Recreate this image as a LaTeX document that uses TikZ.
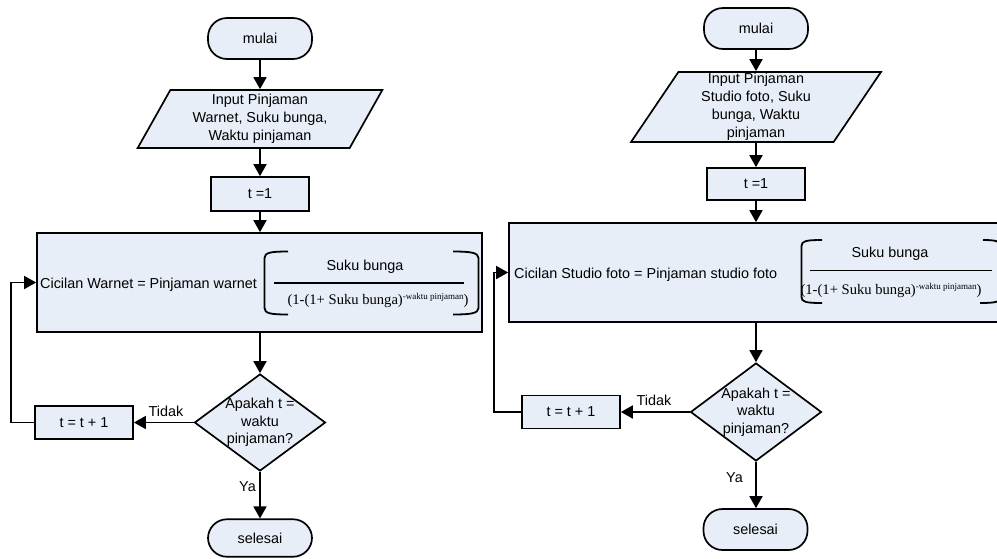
\documentclass[tikz,border=0pt]{standalone}
\usepackage{fontspec}
\setmainfont{Liberation Sans}
\newfontfamily\timesfont{Liberation Serif}
\usetikzlibrary{shapes.geometric,arrows.meta,calc}
\definecolor{boxfill}{RGB}{232,238,247}
\tikzset{
  x=1pt,y=-1pt,
  base/.style={draw=black,line width=1.7pt,fill=boxfill,
    font=\fontsize{14.4}{18}\selectfont,inner sep=0pt,align=center},
  term/.style={base,rectangle,rounded corners=19pt,minimum width=104pt,minimum height=41pt},
  proc/.style={base,rectangle,minimum width=98pt,minimum height=33pt},
  bigbox/.style={base,rectangle,minimum height=99pt},
  io/.style={base,trapezium,trapezium stretches=true,
    trapezium left angle=63.6,trapezium right angle=116.4},
  dec/.style={base,diamond,minimum width=131pt,minimum height=97pt},
  txt/.style={font=\fontsize{14.4}{17.5}\selectfont,inner sep=0pt,align=center},
  den/.style={font=\timesfont\fontsize{14.6}{16}\selectfont,inner sep=0pt},
  flow/.style={line width=1.7pt,-{Triangle[length=12pt,width=13pt]}},
  brk/.style={line width=1.8pt},
}
\newcommand{\expo}{\raisebox{5pt}{\fontsize{9}{9}\selectfont -waktu pinjaman}}
\begin{document}
\begin{tikzpicture}
\useasboundingbox (0,0) rectangle (997,558);
\clip (0,0) rectangle (997,558);

% ---------- Warnet ----------
\node[term] (m1) at (260,38.5) {mulai};
\node[io,minimum width=245pt,minimum height=58pt] (in1) at (260,119)
  {Input Pinjaman\\Warnet, Suku bunga,\\Waktu pinjaman};
\node[proc,minimum height=34pt] (t1) at (260,194) {t =1};
\node[bigbox,minimum width=445pt] (big1) at (259.5,282.5) {};
\node[txt,anchor=base west] (f1) at (40,288) {Cicilan Warnet = Pinjaman warnet};
\node[txt,anchor=base] (n1) at (365,270) {Suku bunga};
\node[den,anchor=base] (q1) at (378,304) {(1-(1+ Suku bunga)\expo)};
\draw[line width=1.6pt] (274,283) -- (464,283);
\draw[brk] (288,251.5) .. controls (271,251.5) and (264.5,252.5) .. (264.5,258)
  -- (264.5,308) .. controls (264.5,313.5) and (271,314.5) .. (288,314.5);
\draw[brk] (453,251.5) .. controls (470,251.5) and (478.5,252.5) .. (478.5,258)
  -- (478.5,308) .. controls (478.5,313.5) and (470,314.5) .. (453,314.5);
\node[dec] (d1) at (260,422.5) {};
\node[txt] (d1t) at (260,422.5) {Apakah t =\\waktu\\pinjaman?};
\node[proc] (inc1) at (84,422.5) {t = t + 1};
\node[term,minimum height=37.5pt] (s1) at (260,538) {selesai};
\coordinate (lp1) at (11,422.5);

\draw[flow] (m1.south) -- (in1.north);
\draw[flow] (in1.south) -- (t1.north);
\draw[flow] (t1.south) -- (t1.south |- big1.north);
\draw[flow] (big1.south -| d1.north) -- (d1.north);
\draw[flow] (d1.west) -- (inc1.east);
\draw[flow] (d1.south) -- (s1.north);
\draw[flow] (inc1.west) -- (lp1) |- (big1.west);
\node[txt,anchor=base] (no1) at (166,416) {Tidak};
\node[txt,anchor=base] (ya1) at (247.5,491.5) {Ya};

% ---------- Studio foto ----------
\node[term] (m2) at (756,28.5) {mulai};
\node[io,minimum width=250pt,minimum height=70pt] (in2) at (756,107)
  {Input Pinjaman\\Studio foto, Suku\\bunga, Waktu\\pinjaman};
\node[proc,minimum height=32pt] (t2) at (756,184) {t =1};
\node[bigbox,minimum width=496pt] (big2) at (757,272.5) {};
\node[txt,anchor=base west] (f2) at (514,278) {Cicilan Studio foto = Pinjaman studio foto};
\node[txt,anchor=base] (n2) at (890,257) {Suku bunga};
\node[den,anchor=base] (q2) at (891,294) {(1-(1+ Suku bunga)\expo)};
\draw[line width=1.6pt] (810,270.5) -- (992,270.5);
\draw[brk] (822,240) .. controls (806,240) and (801.5,241) .. (801.5,246)
  -- (801.5,297) .. controls (801.5,302) and (806,303) .. (822,303);
\draw[brk] (983,240) .. controls (995,240) and (1000.5,241) .. (1000.5,246)
  -- (1000.5,297) .. controls (1000.5,302) and (995,303) .. (980,303);
\node[dec,minimum width=131pt,minimum height=98pt] (d2) at (756,412) {};
\node[txt] (d2t) at (756,412) {Apakah t =\\waktu\\pinjaman?};
\node[proc] (inc2) at (571,412) {t = t + 1};
\node[term] (s2) at (755.5,529.5) {selesai};
\coordinate (lp2) at (494,412);

\draw[flow] (m2.south) -- (in2.north);
\draw[flow] (in2.south) -- (t2.north);
\draw[flow] (t2.south) -- (t2.south |- big2.north);
\draw[flow] (big2.south -| d2.north) -- (d2.north);
\draw[flow] (d2.west) -- (inc2.east);
\draw[flow] (d2.south) -- (d2.south |- s2.north);
\draw[flow] (inc2.west) -- (lp2) |- (big2.west);
\node[txt,anchor=base] (no2) at (654,405) {Tidak};
\node[txt,anchor=base] (ya2) at (734.5,482) {Ya};
\end{tikzpicture}
\end{document}
